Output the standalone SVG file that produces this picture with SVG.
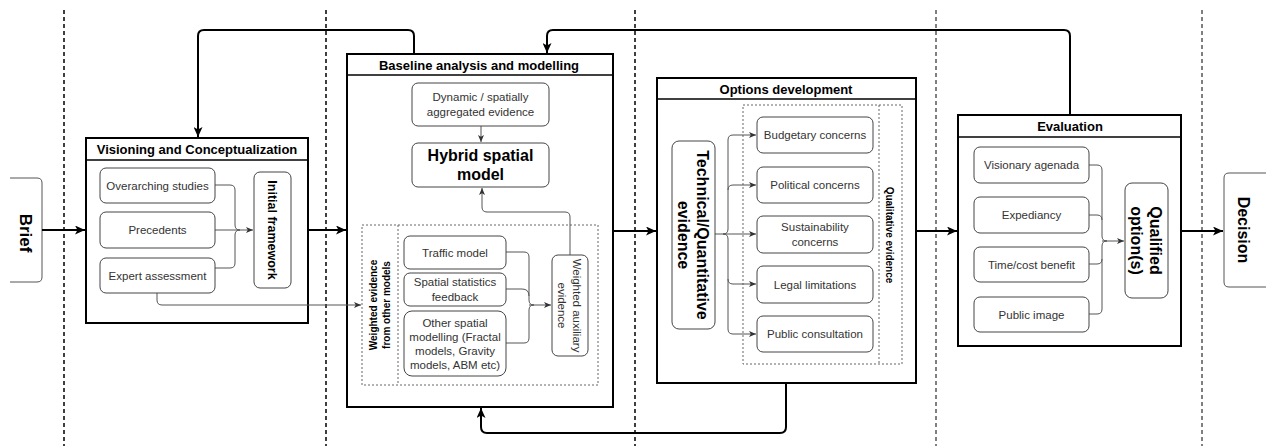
<svg xmlns="http://www.w3.org/2000/svg" width="1266" height="446" viewBox="0 0 1266 446">
<defs>
<style>
.box{fill:#fff;stroke:#444;stroke-width:1}
.cont{fill:#fff;stroke:#000;stroke-width:2}
.bar{stroke:#000;stroke-width:1.5}
.t{font-family:"Liberation Sans",Arial,sans-serif;font-size:11.5px;fill:#333;text-anchor:middle}
.b{font-weight:bold;fill:#000}
.thin{fill:none;stroke:#555;stroke-width:1}
.thick{fill:none;stroke:#000;stroke-width:2}
.sep{stroke:#000;stroke-dasharray:4 3}
.dot{fill:none;stroke:#666;stroke-width:1;stroke-dasharray:2 2}
</style>
<marker id="ah" viewBox="0 0 10 9" refX="10" refY="4.5" markerWidth="10" markerHeight="9" markerUnits="userSpaceOnUse" orient="auto"><path d="M0,0 L10,4.5 L0,9 L2.5,4.5 z" fill="#000"/></marker>
<marker id="as" viewBox="0 0 7 6" refX="7" refY="3" markerWidth="7" markerHeight="6" markerUnits="userSpaceOnUse" orient="auto"><path d="M0,0 L7,3 L0,6 L1.8,3 z" fill="#333"/></marker>
</defs>
<rect width="1266" height="446" fill="#fff"/>
<g id="separators">
<line class="sep" x1="64" y1="10" x2="64" y2="446" stroke-width="1.5"/>
<line class="sep" x1="326" y1="10" x2="326" y2="446" stroke-width="1.5"/>
<line class="sep" x1="635" y1="10" x2="635" y2="446" stroke-width="1.5"/>
<line class="sep" x1="936" y1="10" x2="936" y2="446" stroke-width="1"/>
<line class="sep" x1="1202" y1="10" x2="1202" y2="446" stroke-width="1"/>
</g>
<g id="brief">
<path d="M10,178 H37 Q42,178 42,183 V277 Q42,282 37,282 H10" fill="#fff" stroke="#555"/>
<text class="t b" transform="translate(26,233) rotate(90)" dy="6" style="font-size:17px">Brief</text>
</g>
<g id="decision">
<path d="M1266,173 H1229 Q1224,173 1224,178 V282 Q1224,287 1229,287 H1266" fill="#fff" stroke="#555"/>
<text class="t b" transform="translate(1244,230) rotate(90)" dy="6" style="font-size:16px">Decision</text>
</g>
<g id="visioning">
<rect class="cont" x="86" y="138" width="222" height="185"/>
<line class="bar" x1="86" y1="160" x2="308" y2="160"/>
<text class="t b" x="197" y="154" style="font-size:13px">Visioning and Conceptualization</text>
</g>
<g id="baseline">
<rect class="cont" x="347" y="54" width="266" height="353"/>
<line class="bar" x1="347" y1="75" x2="613" y2="75"/>
<text class="t b" x="479" y="69.5" style="font-size:13px">Baseline analysis and modelling</text>
</g>
<g id="weighted-evidence">
<rect class="dot" x="362" y="225" width="236" height="160"/>
<line class="dot" x1="398" y1="225" x2="398" y2="385" stroke="#333"/>
<text class="t b" transform="translate(373.5,305) rotate(-90)" dy="3.5" style="font-size:10px">Weighted evidence</text>
<text class="t b" transform="translate(386.5,305) rotate(-90)" dy="3.5" style="font-size:10px">from other models</text>
</g>
<g id="options">
<rect class="cont" x="657" y="78" width="259" height="305"/>
<line class="bar" x1="657" y1="99" x2="916" y2="99"/>
<text class="t b" x="786" y="93.5" style="font-size:13px">Options development</text>
</g>
<g id="qualitative">
<rect class="dot" x="743" y="105" width="159" height="259"/>
<line class="dot" x1="879" y1="105" x2="879" y2="364" stroke="#333"/>
<text class="t b" transform="translate(889,235) rotate(90)" dy="3.5" style="font-size:10px">Qualitative evidence</text>
</g>
<g id="evaluation">
<rect class="cont" x="958" y="115" width="223" height="231"/>
<line class="bar" x1="958" y1="137" x2="1181" y2="137"/>
<text class="t b" x="1070" y="131" style="font-size:13px">Evaluation</text>
</g>
<g id="connectors">
<path class="thick" d="M42,230 H85" marker-end="url(#ah)"/>
<path class="thick" d="M308,230 H346" marker-end="url(#ah)"/>
<path class="thick" d="M613,231 H656" marker-end="url(#ah)"/>
<path class="thick" d="M916,231 H957" marker-end="url(#ah)"/>
<path class="thick" d="M1181,231 H1223" marker-end="url(#ah)"/>
<path class="thick" d="M414,54 V36 Q414,30 408,30 H204 Q198,30 198,36 V137" marker-end="url(#ah)"/>
<path class="thick" d="M1070,115 V36 Q1070,30 1064,30 H553 Q547,30 547,36 V53" marker-end="url(#ah)"/>
<path class="thick" d="M786,383 V427 Q786,433 780,433 H487 Q481,433 481,427 V408" marker-end="url(#ah)"/>
<path class="thin" d="M215,185 H230 Q235,185 235,190 V225 Q235,230 240,230"/>
<path class="thin" d="M215,268 H230 Q235,268 235,263 V235 Q235,230 240,230"/>
<path class="thin" d="M215,230 H253" marker-end="url(#as)"/>
<path class="thin" d="M157,293 V300 Q157,305 162,305 H361" marker-end="url(#as)"/>
<path class="thin" d="M481,126 V142" marker-end="url(#as)"/>
<path class="thin" d="M570,255 V217 Q570,212 565,212 H487 Q482,212 482,207 V188" marker-end="url(#as)"/>
<path class="thin" d="M506,252 H524 Q529,252 529,257 V300 Q529,305 534,305"/>
<path class="thin" d="M506,289 H522 Q529,289 529,296"/>
<path class="thin" d="M506,343 H524 Q529,343 529,338 V310 Q529,305 534,305"/>
<path class="thin" d="M529,305 H551" marker-end="url(#as)"/>
<path class="thin" d="M715,234 H723 Q728,234 728,229 V140 Q728,135 733,135 H756" marker-end="url(#as)"/>
<path class="thin" d="M728,190 Q728,185 733,185 H756" marker-end="url(#as)"/>
<path class="thin" d="M723,234 H756" marker-end="url(#as)"/>
<path class="thin" d="M723,234 Q728,234 728,239 V329 Q728,334 733,334 H756" marker-end="url(#as)"/>
<path class="thin" d="M728,279 Q728,284 733,284 H756" marker-end="url(#as)"/>
<path class="thin" d="M1089,165 H1097 Q1102,165 1102,170 V236 Q1102,241 1107,241"/>
<path class="thin" d="M1089,215 H1097 Q1102,215 1102,220"/>
<path class="thin" d="M1089,264 H1097 Q1102,264 1102,259"/>
<path class="thin" d="M1089,314 H1097 Q1102,314 1102,309 V246 Q1102,241 1107,241"/>
<path class="thin" d="M1102,241 H1124" marker-end="url(#as)"/>
</g>
<g id="overarching"><rect class="box" x="100" y="168" width="115" height="35" rx="6"/><text class="t" x="157.5" y="189.5">Overarching studies</text></g>
<g id="precedents"><rect class="box" x="100" y="212" width="115" height="36" rx="6"/><text class="t" x="157.5" y="234">Precedents</text></g>
<g id="expert"><rect class="box" x="100" y="258" width="115" height="35" rx="6"/><text class="t" x="157.5" y="279.5">Expert assessment</text></g>
<g id="initial-framework"><rect class="box" x="254" y="172" width="37" height="116" rx="6"/><text class="t b" transform="translate(272.5,230) rotate(90)" dy="4.5" style="font-size:12.5px">Initial framework</text></g>
<g id="dynamic"><rect class="box" x="412" y="83" width="137" height="43" rx="6"/><text class="t" x="480.5" y="101">Dynamic /  spatially</text><text class="t" x="480.5" y="115.5">aggregated evidence</text></g>
<g id="hybrid"><rect class="box" x="412" y="143" width="137" height="44" rx="6"/><text class="t b" x="480.5" y="161" style="font-size:16px">Hybrid spatial</text><text class="t b" x="480.5" y="180" style="font-size:16px">model</text></g>
<g id="traffic"><rect class="box" x="404" y="236" width="102" height="33" rx="6"/><text class="t" x="455" y="256.5">Traffic model</text></g>
<g id="spatial-stats"><rect class="box" x="404" y="273" width="102" height="33" rx="6"/><text class="t" x="455" y="286">Spatial statistics</text><text class="t" x="455" y="301">feedback</text></g>
<g id="other-spatial"><rect class="box" x="404" y="311" width="102" height="65" rx="8"/><text class="t" x="455" y="327">Other spatial</text><text class="t" x="455" y="341">modelling (Fractal</text><text class="t" x="455" y="355">models, Gravity</text><text class="t" x="455" y="369">models, ABM etc)</text></g>
<g id="weighted-aux"><rect class="box" x="552" y="255" width="36" height="101" rx="6"/><text class="t" transform="translate(576.5,305.5) rotate(90)" dy="4">Weighted auxiliary</text><text class="t" transform="translate(562,305.5) rotate(90)" dy="4">evidence</text></g>
<g id="technical"><rect class="box" x="672" y="141" width="43" height="188" rx="7"/><text class="t b" transform="translate(702,235) rotate(90)" dy="5.5" style="font-size:16px">Technical/Quantitative</text><text class="t b" transform="translate(683,235) rotate(90)" dy="5.5" style="font-size:16px">evidence</text></g>
<g id="budgetary"><rect class="box" x="757" y="117" width="116" height="36" rx="6"/><text class="t" x="815" y="139">Budgetary concerns</text></g>
<g id="political"><rect class="box" x="757" y="167" width="116" height="36" rx="6"/><text class="t" x="815" y="189">Political concerns</text></g>
<g id="sustainability"><rect class="box" x="757" y="216" width="116" height="37" rx="6"/><text class="t" x="815" y="231">Sustainability</text><text class="t" x="815" y="246">concerns</text></g>
<g id="legal"><rect class="box" x="757" y="266" width="116" height="37" rx="6"/><text class="t" x="815" y="288.5">Legal limitations</text></g>
<g id="public-consultation"><rect class="box" x="757" y="316" width="116" height="36" rx="6"/><text class="t" x="815" y="338">Public consultation</text></g>
<g id="visionary"><rect class="box" x="974" y="147" width="115" height="36" rx="6"/><text class="t" x="1031.5" y="169">Visionary agenada</text></g>
<g id="expediancy"><rect class="box" x="974" y="197" width="115" height="36" rx="6"/><text class="t" x="1031.5" y="219">Expediancy</text></g>
<g id="timecost"><rect class="box" x="974" y="247" width="115" height="35" rx="6"/><text class="t" x="1031.5" y="268.5">Time/cost benefit</text></g>
<g id="public-image"><rect class="box" x="974" y="297" width="115" height="35" rx="6"/><text class="t" x="1031.5" y="318.5">Public image</text></g>
<g id="qualified"><rect class="box" x="1125" y="183" width="43" height="115" rx="7"/><text class="t b" transform="translate(1155,240.5) rotate(90)" dy="5.5" style="font-size:16px">Qualified</text><text class="t b" transform="translate(1136.5,240.5) rotate(90)" dy="5.5" style="font-size:16px">option(s)</text></g>
</svg>
